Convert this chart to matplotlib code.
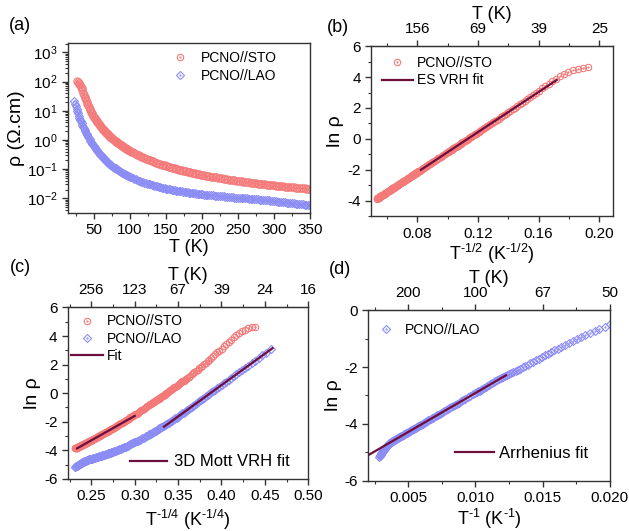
import numpy as np
import matplotlib
matplotlib.use("Agg")
import matplotlib.pyplot as plt
from matplotlib.lines import Line2D
from matplotlib.legend_handler import HandlerTuple
from matplotlib.ticker import LogLocator, NullFormatter, MultipleLocator

plt.rcParams['font.family'] = ['Liberation Sans', 'DejaVu Sans']
plt.rcParams['mathtext.fontset'] = 'custom'
plt.rcParams['mathtext.rm'] = 'Liberation Sans'
plt.rcParams['mathtext.it'] = 'Liberation Sans:italic'
plt.rcParams['mathtext.default'] = 'regular'
plt.rcParams['axes.unicode_minus'] = False

# ---- data: temperature (K) and ln(rho) ----
T_sto = [27, 28, 29, 30, 31, 32, 33, 34, 35, 36,
         37, 38, 39, 40, 41, 42, 43, 44, 45, 46,
         47, 48, 49, 50, 51, 52, 53, 54, 55, 56,
         57, 58, 59, 60, 61, 62, 63, 64, 65, 66,
         67, 68, 69, 70, 71, 72, 73, 74, 75, 76,
         77, 78, 79, 80, 81, 82, 83, 84, 85, 86,
         87, 88, 89, 90, 91, 92, 93, 94, 95, 96,
         97, 98, 99, 100,
         102, 104, 106, 108, 110, 112, 114, 116, 118, 120,
         122, 124, 126, 128, 130, 132, 134, 136, 138, 140,
         142, 144, 146, 148, 150, 152, 154, 156, 158, 160,
         162, 164, 166, 168, 170, 172, 174, 176, 178, 180,
         182, 184, 186, 188, 190, 192, 194, 196, 198, 200,
         202.5, 205, 207.5, 210, 212.5, 215, 217.5, 220, 222.5, 225,
         227.5, 230, 232.5, 235, 237.5, 240, 242.5, 245, 247.5, 250,
         252.5, 255, 257.5, 260, 262.5, 265, 267.5, 270, 272.5, 275,
         277.5, 280, 282.5, 285, 287.5, 290, 292.5, 295, 297.5, 300,
         302.5, 305, 307.5, 310, 312.5, 315, 317.5, 320, 322.5, 325,
         327.5, 330, 332.5, 335, 337.5, 340, 342.5, 345, 347.5, 350]
ln_sto = [4.65, 4.60, 4.53, 4.44, 4.33, 4.20, 4.06, 3.90, 3.74, 3.58,
          3.42, 3.27, 3.12, 2.98, 2.85, 2.72, 2.595, 2.47, 2.355, 2.24,
          2.13, 2.02, 1.92, 1.82, 1.73, 1.64, 1.555, 1.47, 1.39, 1.31,
          1.235, 1.16, 1.09, 1.02, 0.95, 0.88, 0.82, 0.755, 0.69, 0.63,
          0.57, 0.51, 0.455, 0.40, 0.345, 0.29, 0.24, 0.19, 0.14, 0.09,
          0.04, -0.01, -0.055, -0.10, -0.14, -0.18, -0.23, -0.27, -0.31, -0.35,
          -0.39, -0.43, -0.47, -0.51, -0.55, -0.58, -0.62, -0.65, -0.69, -0.72,
          -0.76, -0.79, -0.83, -0.86,
          -0.92, -0.99, -1.05, -1.11, -1.16, -1.21, -1.26, -1.31, -1.37, -1.42,
          -1.47, -1.52, -1.56, -1.61, -1.65, -1.69, -1.74, -1.78, -1.82, -1.86,
          -1.90, -1.94, -1.98, -2.01, -2.05, -2.08, -2.11, -2.15, -2.18, -2.21,
          -2.24, -2.27, -2.31, -2.34, -2.37, -2.40, -2.43, -2.45, -2.48, -2.51,
          -2.53, -2.56, -2.58, -2.61, -2.64, -2.66, -2.68, -2.71, -2.73, -2.75,
          -2.78, -2.81, -2.835, -2.86, -2.885, -2.91, -2.935, -2.96, -2.985, -3.01,
          -3.035, -3.06, -3.085, -3.11, -3.13, -3.15, -3.17, -3.19, -3.21, -3.23,
          -3.25, -3.27, -3.29, -3.31, -3.33, -3.35, -3.37, -3.39, -3.405, -3.42,
          -3.44, -3.46, -3.475, -3.49, -3.51, -3.53, -3.545, -3.56, -3.575, -3.59,
          -3.605, -3.62, -3.635, -3.65, -3.665, -3.68, -3.695, -3.71, -3.72, -3.73,
          -3.745, -3.76, -3.775, -3.79, -3.80, -3.81, -3.825, -3.84, -3.85, -3.86]

T_lao = [23, 24, 25, 26, 27, 28, 29, 30, 31, 32,
         33, 34, 35, 36, 37, 38, 39, 40, 41, 42,
         43, 44, 45, 46, 47, 48, 49, 50, 51, 52,
         53, 54, 55, 56, 57, 58, 59, 60, 61, 62,
         63, 64, 65, 66, 67, 68, 69, 70, 71, 72,
         73, 74, 75, 76, 77, 78, 79, 80, 81, 82,
         83, 84, 85, 86, 87, 88, 89, 90, 91, 92,
         93, 94, 95, 96, 97, 98, 99, 100,
         102, 104, 106, 108, 110, 112, 114, 116, 118, 120,
         122, 124, 126, 128, 130, 132, 134, 136, 138, 140,
         142, 144, 146, 148, 150, 152, 154, 156, 158, 160,
         162, 164, 166, 168, 170, 172, 174, 176, 178, 180,
         182, 184, 186, 188, 190, 192, 194, 196, 198, 200,
         202.5, 205, 207.5, 210, 212.5, 215, 217.5, 220, 222.5, 225,
         227.5, 230, 232.5, 235, 237.5, 240, 242.5, 245, 247.5, 250,
         252.5, 255, 257.5, 260, 262.5, 265, 267.5, 270, 272.5, 275,
         277.5, 280, 282.5, 285, 287.5, 290, 292.5, 295, 297.5, 300,
         302.5, 305, 307.5, 310, 312.5, 315, 317.5, 320, 322.5, 325,
         327.5, 330, 332.5, 335, 337.5, 340, 342.5, 345, 347.5, 350]
ln_lao = [3.08, 2.84, 2.64, 2.45, 2.27, 2.09, 1.92, 1.76, 1.61, 1.46,
          1.32, 1.19, 1.05, 0.93, 0.81, 0.69, 0.57, 0.46, 0.355, 0.25,
          0.15, 0.05, -0.045, -0.14, -0.23, -0.32, -0.41, -0.50, -0.575, -0.65,
          -0.725, -0.80, -0.87, -0.94, -1.01, -1.08, -1.15, -1.22, -1.285, -1.35,
          -1.41, -1.47, -1.53, -1.59, -1.65, -1.71, -1.765, -1.82, -1.87, -1.92,
          -1.96, -2.01, -2.06, -2.10, -2.14, -2.18, -2.22, -2.25, -2.29, -2.32,
          -2.36, -2.39, -2.43, -2.46, -2.50, -2.53, -2.57, -2.61, -2.64, -2.67,
          -2.70, -2.74, -2.77, -2.80, -2.83, -2.85, -2.88, -2.91,
          -2.96, -3.02, -3.07, -3.11, -3.16, -3.20, -3.25, -3.29, -3.33, -3.37,
          -3.41, -3.44, -3.48, -3.51, -3.55, -3.58, -3.61, -3.64, -3.67, -3.70,
          -3.73, -3.76, -3.78, -3.81, -3.83, -3.85, -3.88, -3.90, -3.92, -3.94,
          -3.97, -3.99, -4.01, -4.03, -4.04, -4.06, -4.08, -4.10, -4.12, -4.13,
          -4.15, -4.17, -4.18, -4.20, -4.21, -4.23, -4.24, -4.26, -4.27, -4.29,
          -4.305, -4.32, -4.335, -4.35, -4.365, -4.38, -4.395, -4.41, -4.425, -4.44,
          -4.45, -4.46, -4.475, -4.49, -4.50, -4.51, -4.525, -4.54, -4.55, -4.56,
          -4.57, -4.58, -4.59, -4.60, -4.61, -4.62, -4.635, -4.65, -4.66, -4.67,
          -4.685, -4.70, -4.715, -4.73, -4.745, -4.76, -4.775, -4.79, -4.805, -4.82,
          -4.84, -4.86, -4.875, -4.89, -4.905, -4.92, -4.935, -4.95, -4.97, -4.99,
          -5.005, -5.02, -5.04, -5.06, -5.075, -5.09, -5.105, -5.12, -5.135, -5.15]

# fit segments (x endpoints, y endpoints)
fit_b_x, fit_b_y = [0.0824, 0.1719], [-2.0, 3.81]
fit_c_sto_x, fit_c_sto_y = [0.2335, 0.300], [-3.86, -1.59]
fit_c_lao_x, fit_c_lao_y = [0.3338, 0.4588], [-2.34, 3.15]
fit_d_x, fit_d_y = [0.00203, 0.01227], [-5.10, -2.29]

T_sto = np.array(T_sto, float)
T_lao = np.array(T_lao, float)
ln_sto = np.array(ln_sto)
ln_lao = np.array(ln_lao)

RED = '#f47a7a'
BLUE = '#8c8cf5'
FIT = '#6d0e3c'
AX = '#333333'

fig = plt.figure(figsize=(6.29, 5.31), dpi=100)


def style(ax):
    for s in ['left', 'bottom', 'top', 'right']:
        ax.spines[s].set_color(AX)
        ax.spines[s].set_linewidth(1.0)
    ax.tick_params(which='both', direction='out', colors=AX, labelcolor='black',
                   labelsize=11, top=False, right=False)
    ax.tick_params(which='major', length=4, width=1.0)
    ax.tick_params(which='minor', length=2, width=0.8)


def circles(ax, x, y, ms=4.6):
    ax.plot(x, y, 'o', mfc='none', mec=RED, mew=0.8, ms=ms, ls='none')
    ax.plot(x, y, '.', color=RED, ms=1.2, ls='none')


def diamonds(ax, x, y, ms=4.6):
    ax.plot(x, y, 'D', mfc='none', mec=BLUE, mew=0.8, ms=ms * 0.8, ls='none')
    ax.plot(x, y, '.', color=BLUE, ms=1.2, ls='none')


h_sto = (Line2D([], [], marker='o', mfc='none', mec=RED, mew=0.8, ms=4.6, ls='none'),
         Line2D([], [], marker='.', color=RED, ms=1.2, ls='none'))
h_lao = (Line2D([], [], marker='D', mfc='none', mec=BLUE, mew=0.8, ms=3.7, ls='none'),
         Line2D([], [], marker='.', color=BLUE, ms=1.2, ls='none'))
h_fit = Line2D([], [], color=FIT, lw=1.6)
hmap = {tuple: HandlerTuple(ndivide=1)}


def top_axis(ax, ticks, labels, minor):
    sec = ax.secondary_xaxis('top')
    sec.set_xticks(ticks)
    sec.set_xticklabels(labels)
    sec.xaxis.set_minor_locator(MultipleLocator(minor))
    sec.spines['top'].set_color(AX)
    sec.tick_params(which='both', direction='out', colors=AX, labelcolor='black',
                    labelsize=11)
    sec.tick_params(which='major', length=4, width=1.0)
    sec.tick_params(which='minor', length=2, width=0.8)
    sec.set_xlabel('T (K)', fontsize=13, labelpad=2)
    return sec


# ---------------- (a) ----------------
ax = fig.add_axes([0.108, 0.599, 0.385, 0.320])
circles(ax, T_sto, np.exp(ln_sto), ms=5.2)
diamonds(ax, T_lao, np.exp(ln_lao), ms=5.2)
ax.set_yscale('log')
ax.set_xlim(14, 350)
ax.set_ylim(10 ** -2.5, 10 ** 3.32)
ax.set_xticks([50, 100, 150, 200, 250, 300, 350])
ax.xaxis.set_minor_locator(MultipleLocator(25))
ax.yaxis.set_major_locator(LogLocator(base=10, numticks=10))
ax.yaxis.set_minor_locator(LogLocator(base=10, subs=np.arange(2, 10), numticks=20))
ax.yaxis.set_minor_formatter(NullFormatter())
style(ax)
ax.set_xlabel('T (K)', fontsize=13, labelpad=1)
ax.set_ylabel('ρ (Ω.cm)', fontsize=14, labelpad=1)
ax.legend([h_sto, h_lao], ['PCNO//STO', 'PCNO//LAO'], handler_map=hmap,
          loc='center left', bbox_to_anchor=(0.434, 0.859), frameon=False,
          fontsize=10, handlelength=1.0, handletextpad=1.0, labelspacing=0.25,
          borderpad=0, borderaxespad=0)

# ---------------- (b) ----------------
ax = fig.add_axes([0.590, 0.593, 0.384, 0.320])
circles(ax, T_sto ** -0.5, ln_sto)
ax.plot(fit_b_x, fit_b_y, color=FIT, lw=1.6)
ax.set_xlim(0.0495, 0.2088)
ax.set_ylim(-5, 6)
ax.set_xticks([0.08, 0.12, 0.16, 0.20])
ax.set_xticklabels(['0.08', '0.12', '0.16', '0.20'])
ax.xaxis.set_minor_locator(MultipleLocator(0.02))
ax.set_yticks([-4, -2, 0, 2, 4, 6])
ax.yaxis.set_minor_locator(MultipleLocator(1))
style(ax)
top_axis(ax, [0.08, 0.12, 0.16, 0.20],
         ['%d' % round(u ** -2) for u in [0.08, 0.12, 0.16, 0.20]], 0.02)
ax.set_xlabel(r'T$^{\text{-}1/2}$ (K$^{\text{-}1/2}$)', fontsize=13, labelpad=1)
ax.set_ylabel('ln ρ', fontsize=14, labelpad=2)
ax.legend([h_sto, h_fit], ['PCNO//STO', 'ES VRH fit'], handler_map=hmap,
          loc='center left', bbox_to_anchor=(0.044, 0.85), frameon=False,
          fontsize=10, handlelength=2.25, handletextpad=0.3, labelspacing=0.25,
          borderpad=0, borderaxespad=0)

# ---------------- (c) ----------------
ax = fig.add_axes([0.108, 0.098, 0.382, 0.323])
circles(ax, T_sto ** -0.25, ln_sto)
diamonds(ax, T_lao ** -0.25, ln_lao)
ax.plot(fit_c_sto_x, fit_c_sto_y, color=FIT, lw=1.6)
ax.plot(fit_c_lao_x, fit_c_lao_y, color=FIT, lw=1.6)
ax.set_xlim(0.223, 0.50)
ax.set_ylim(-6, 6)
ax.set_xticks([0.25, 0.30, 0.35, 0.40, 0.45, 0.50])
ax.set_xticklabels(['0.25', '0.30', '0.35', '0.40', '0.45', '0.50'])
ax.xaxis.set_minor_locator(MultipleLocator(0.025))
ax.set_yticks([-6, -4, -2, 0, 2, 4, 6])
ax.yaxis.set_minor_locator(MultipleLocator(1))
style(ax)
top_axis(ax, [0.25, 0.30, 0.35, 0.40, 0.45, 0.50],
         ['%d' % round(v ** -4) for v in [0.25, 0.30, 0.35, 0.40, 0.45, 0.50]], 0.025)
ax.set_xlabel(r'T$^{\text{-}1/4}$ (K$^{\text{-}1/4}$)', fontsize=13, labelpad=3)
ax.set_ylabel('ln ρ', fontsize=14, labelpad=2)
leg = ax.legend([h_sto, h_lao, h_fit], ['PCNO//STO', 'PCNO//LAO', 'Fit'],
                handler_map=hmap, loc='center left', bbox_to_anchor=(0.0125, 0.817),
                frameon=False, fontsize=10, handlelength=2.3, handletextpad=0.3,
                labelspacing=0.25, borderpad=0, borderaxespad=0)
ax.add_artist(leg)
ax.legend([h_fit], ['3D Mott VRH fit'], loc='center left',
          bbox_to_anchor=(0.258, 0.099), frameon=False, fontsize=12,
          handlelength=2.2, handletextpad=0.42, borderpad=0, borderaxespad=0)

# ---------------- (d) ----------------
ax = fig.add_axes([0.5855, 0.0947, 0.384, 0.321])
diamonds(ax, 1.0 / T_lao, ln_lao)
ax.plot(fit_d_x, fit_d_y, color=FIT, lw=1.6)
ax.set_xlim(0.00203, 0.020)
ax.set_ylim(-6, 0)
ax.set_xticks([0.005, 0.010, 0.015, 0.020])
ax.set_xticklabels(['0.005', '0.010', '0.015', '0.020'])
ax.xaxis.set_minor_locator(MultipleLocator(0.0025))
ax.set_yticks([-6, -4, -2, 0])
ax.yaxis.set_minor_locator(MultipleLocator(1))
style(ax)
top_axis(ax, [0.005, 0.010, 0.015, 0.020],
         ['%d' % round(1 / w) for w in [0.005, 0.010, 0.015, 0.020]], 0.0025)
ax.set_xlabel(r'T$^{\text{-}1}$ (K$^{\text{-}1}$)', fontsize=13, labelpad=1)
ax.set_ylabel('ln ρ', fontsize=14, labelpad=2)
leg = ax.legend([h_lao], ['PCNO//LAO'], handler_map=hmap, loc='center left',
                bbox_to_anchor=(0.044, 0.887), frameon=False, fontsize=10,
                handlelength=1.0, handletextpad=0.9, borderpad=0, borderaxespad=0)
ax.add_artist(leg)
ax.legend([h_fit], ['Arrhenius fit'], loc='center left',
          bbox_to_anchor=(0.359, 0.162), frameon=False, fontsize=12,
          handlelength=2.33, handletextpad=0.3, borderpad=0, borderaxespad=0)

# panel letters
fig.text(20 / 629, 1 - 25 / 531, '(a)', fontsize=13, ha='center', va='center')
fig.text(338 / 629, 1 - 27 / 531, '(b)', fontsize=13, ha='center', va='center')
fig.text(20 / 629, 1 - 268 / 531, '(c)', fontsize=13, ha='center', va='center')
fig.text(340 / 629, 1 - 270 / 531, '(d)', fontsize=13, ha='center', va='center')

fig.savefig('out.png', dpi=100)
